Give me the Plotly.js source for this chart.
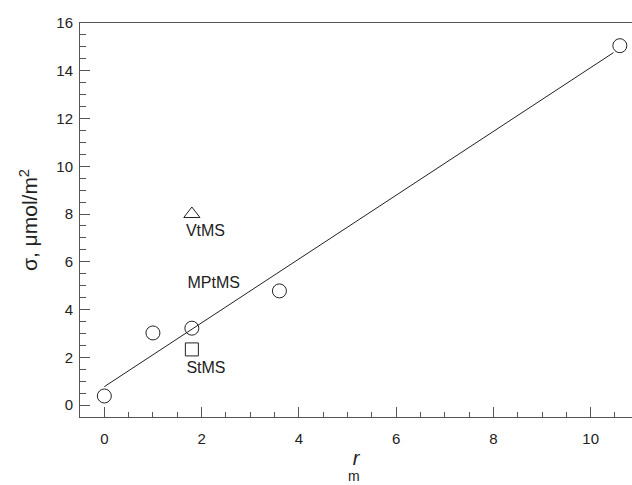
<!DOCTYPE html>
<html><head><meta charset="utf-8">
<script src="https://cdn.plot.ly/plotly-3.0.1.min.js"></script>
<style>body{margin:0;background:#fff}#plot{width:632px;height:485px}</style>
</head><body><div id="plot"></div>
<script>
// Data
const circleX = [0, 1, 1.8, 3.6, 10.6];
const circleY = [0.38, 3.02, 3.22, 4.78, 15.05];
const triangleX = [1.8];
const triangleY = [8.0];
const squareX = [1.8];
const squareY = [2.33];
const fitX = [0, 10.47];
const fitY = [0.77, 14.76];
const labelText = ["VtMS", "MPtMS", "StMS"];
const labelX = [2.08, 2.25, 2.09];
const labelY = [7.26, 5.05, 1.49];

const axisCol = '#555';
const fam = 'Liberation Sans, Arial, sans-serif';
const font = {family: fam, size: 15, color: '#222'};

const traces = [
  {x: fitX, y: fitY, mode: 'lines', line: {color: '#222', width: 1}, hoverinfo: 'skip'},
  {x: circleX, y: circleY, mode: 'markers',
   marker: {symbol: 'circle-open', size: 14, color: '#222', line: {width: 1}}},
  {x: triangleX, y: triangleY, mode: 'markers',
   marker: {symbol: 'triangle-up-open', size: 14, color: '#222', line: {width: 1}}},
  {x: squareX, y: squareY, mode: 'markers',
   marker: {symbol: 'square-open', size: 13, color: '#222', line: {width: 1}}},
  {x: labelX, y: labelY, mode: 'text', text: labelText,
   textfont: {family: fam, size: 16, color: '#222'}, textposition: 'middle center'}
];

const layout = {
  width: 632, height: 485,
  margin: {l: 80, r: 0, t: 23, b: 68},
  showlegend: false,
  paper_bgcolor: '#fff', plot_bgcolor: '#fff',
  font: font,
  xaxis: {
    range: [-0.5, 10.85], tickvals: [0, 2, 4, 6, 8, 10],
    ticks: 'inside', ticklen: 10, tickcolor: axisCol, tickwidth: 1,
    minor: {dtick: 0.5, tick0: 0, ticks: 'inside', ticklen: 5, tickcolor: axisCol},
    showline: true, linecolor: axisCol, linewidth: 1, mirror: true,
    showgrid: false, zeroline: false,
    tickfont: font, ticklabelstandoff: 8,
    title: {text: '<i>r</i>', font: {family: fam, size: 20, color: '#222'}, standoff: 4}
  },
  yaxis: {
    range: [-0.5, 16], tickvals: [0, 2, 4, 6, 8, 10, 12, 14, 16],
    ticks: 'inside', ticklen: 10, tickcolor: axisCol, tickwidth: 1,
    minor: {dtick: 0.5, tick0: 0, ticks: 'inside', ticklen: 6, tickcolor: axisCol},
    showline: true, linecolor: axisCol, linewidth: 1, mirror: false,
    showgrid: false, zeroline: false,
    tickfont: font, ticklabelstandoff: 3,
    title: {text: 'σ, μmol/m<sup>2</sup>', font: {family: fam, size: 21, color: '#222'}, standoff: 12}
  },
  annotations: [
    {xref: 'paper', yref: 'paper', x: 0.497, y: -0.15, yanchor: 'middle', xanchor: 'center',
     borderpad: 0, text: 'm', showarrow: false, font: {family: fam, size: 14, color: '#222'}}
  ]
};

Plotly.newPlot('plot', traces, layout, {displayModeBar: false, staticPlot: true});
</script>
</body></html>
